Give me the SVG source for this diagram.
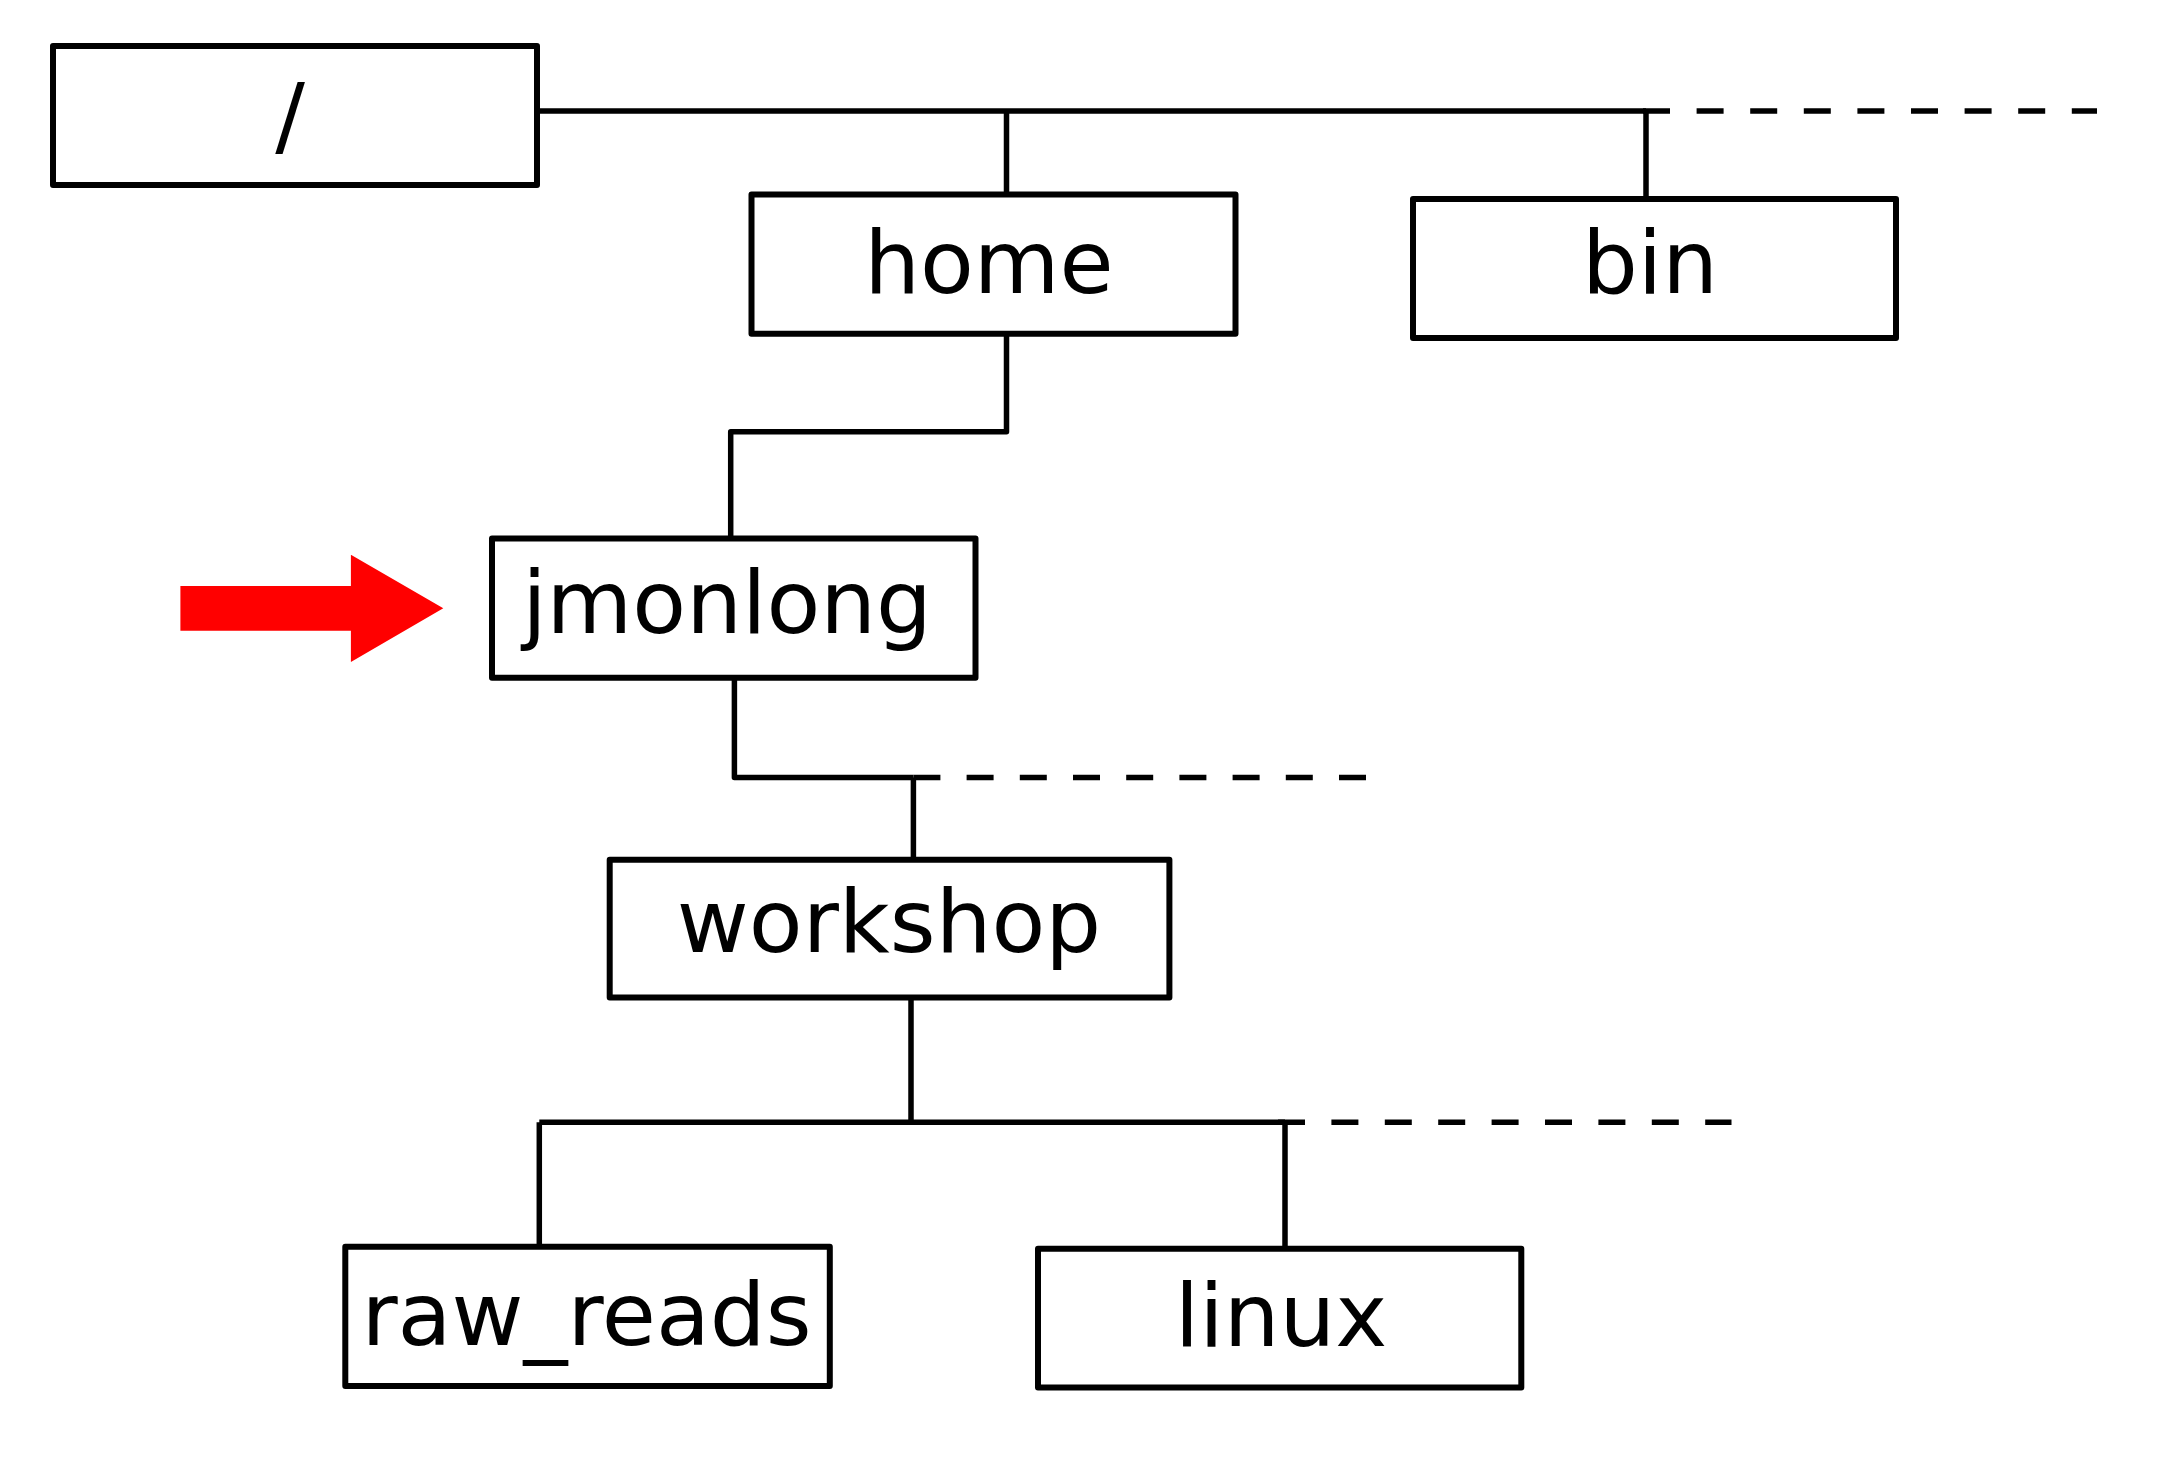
<svg xmlns="http://www.w3.org/2000/svg" width="2158" height="1457" viewBox="0 0 2158 1457">
<style>
.box{fill:#fff;stroke:#000;stroke-width:6;stroke-linejoin:round}
.lbl{font-family:"DejaVu Sans","Liberation Sans",sans-serif;font-size:88px;fill:#000;text-anchor:middle}
.ln{fill:none;stroke:#000;stroke-width:5.5;stroke-linejoin:round}
.dash{fill:none;stroke:#000;stroke-width:5.5}
</style>
<rect width="2158" height="1457" fill="#fff"/>
<g id="connectors">
<path class="ln" d="M536.5 111 H1646 M1006.5 111 V194.5 M1646 111 V199"/>
<path class="dash" d="M1643 111 H2097" stroke-dasharray="27 26.6"/>
<path class="ln" d="M1006.5 333.8 V431.8 H730.7 V538.5"/>
<path class="ln" d="M734.4 677.7 V777.5 H913.4 M913.4 777.5 V859.7"/>
<path class="dash" d="M913.4 777.5 H1366.5" stroke-dasharray="27 26.2"/>
<path class="ln" d="M911 997.5 V1122.3 M539.3 1122.3 H1285 M539.3 1122.3 V1246.7 M1285 1122.3 V1248.7"/>
<path class="dash" d="M1278 1122.3 H1731.5" stroke-dasharray="27 26.4"/>
</g>
<g id="node-root">
<rect class="box" x="53" y="46" width="484" height="139"/>
<text class="lbl" x="290" y="146">/</text>
</g>
<g id="node-home">
<rect class="box" x="751.5" y="194.5" width="484" height="139.3"/>
<text class="lbl" x="989" y="292.7">home</text>
</g>
<g id="node-bin">
<rect class="box" x="1413" y="199" width="483" height="139"/>
<text class="lbl" x="1650" y="292.7">bin</text>
</g>
<g id="node-jmonlong">
<rect class="box" x="492" y="538.5" width="483.5" height="139.2"/>
<text class="lbl" x="727" y="633.3">jmonlong</text>
</g>
<g id="node-workshop">
<rect class="box" x="609.7" y="859.7" width="559.7" height="137.8"/>
<text class="lbl" x="889" y="951.7">workshop</text>
</g>
<g id="node-raw_reads">
<rect class="box" x="345.3" y="1246.7" width="484.5" height="139.3"/>
<text class="lbl" x="586.5" y="1345">raw_reads</text>
</g>
<g id="node-linux">
<rect class="box" x="1038" y="1248.7" width="483.3" height="138.8"/>
<text class="lbl" x="1281" y="1345.7">linux</text>
</g>
<g id="pointer">
<polygon fill="#ff0000" points="180.4,586 350.9,586 350.9,554.7 443.3,608.3 350.9,662 350.9,630.7 180.4,630.7"/>
</g>
</svg>
